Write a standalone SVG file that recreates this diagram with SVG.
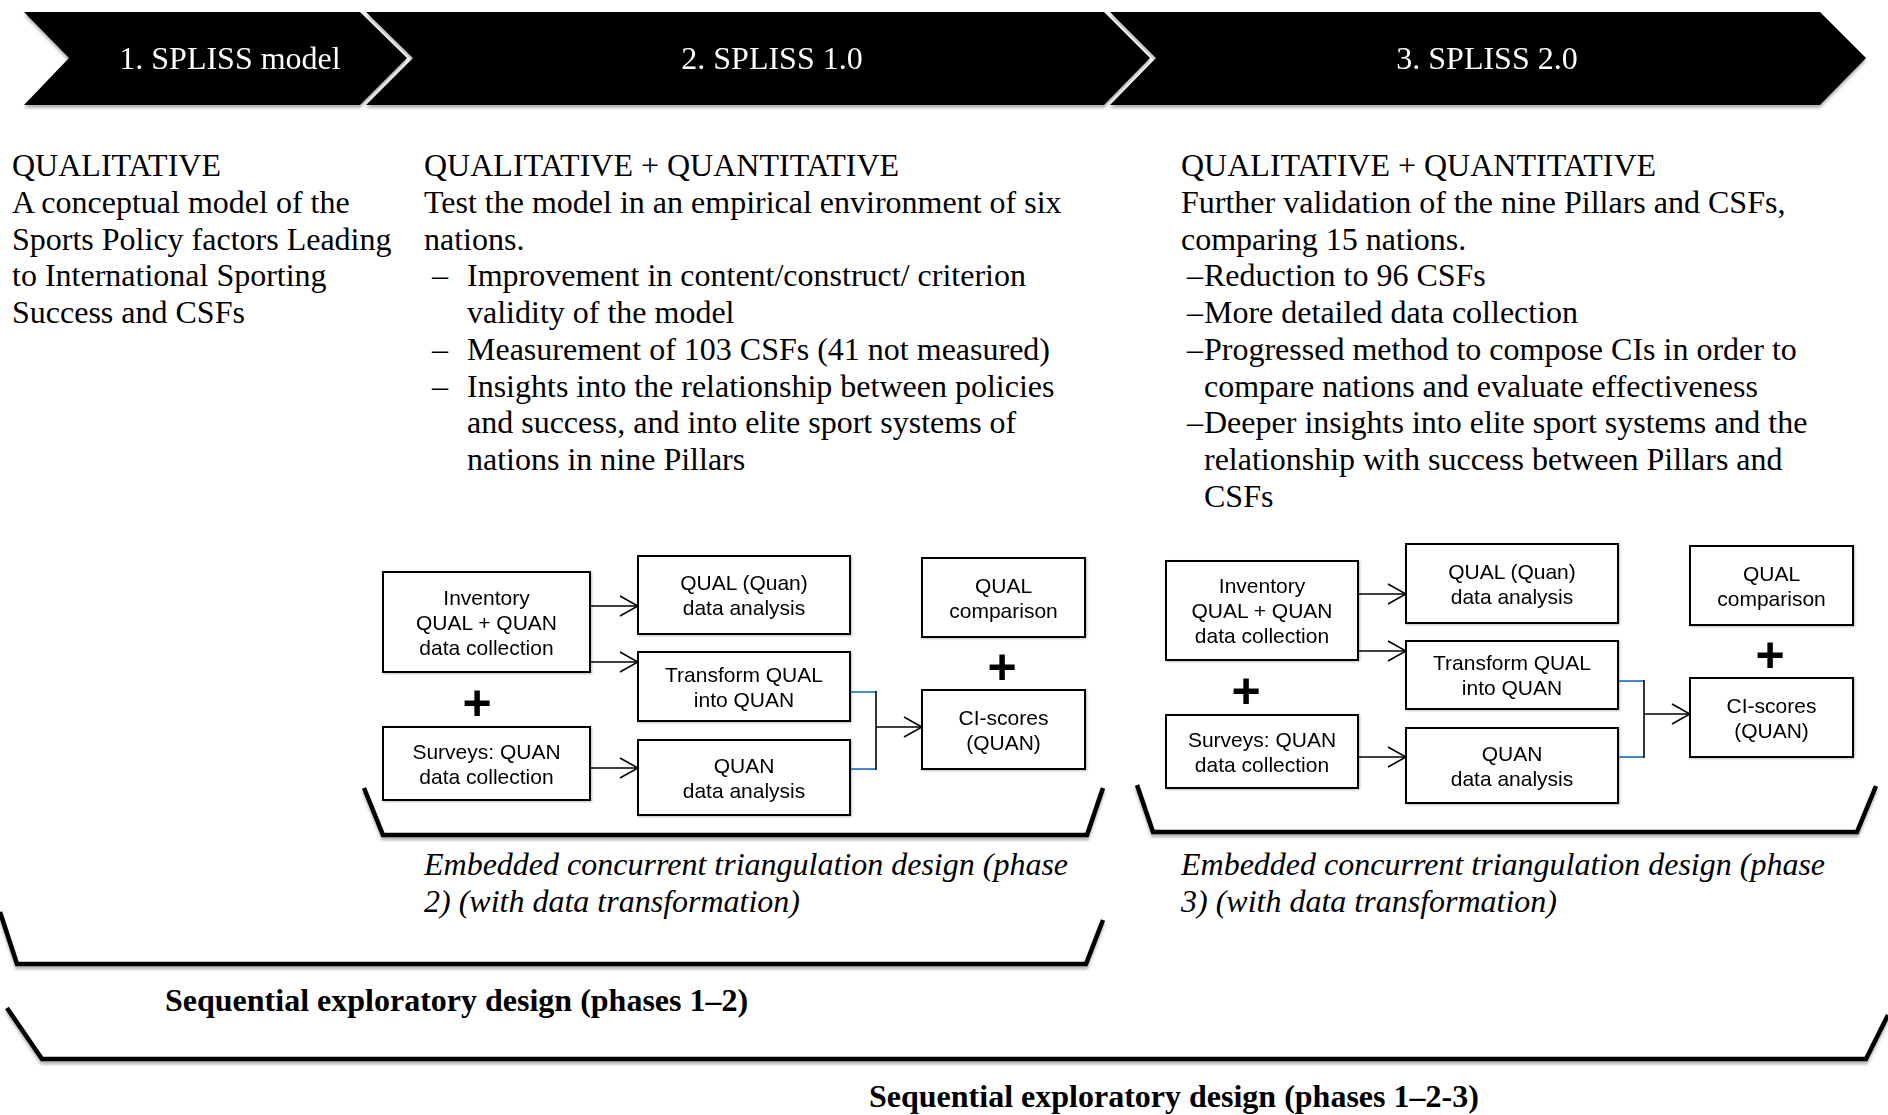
<svg xmlns="http://www.w3.org/2000/svg" width="1888" height="1115" viewBox="0 0 1888 1115">
<defs>
<style>
.ser{font-family:"Liberation Serif","Times New Roman",serif;font-size:32px;fill:#000}
.ban{font-family:"Liberation Serif","Times New Roman",serif;font-size:32px;fill:#fff;text-anchor:middle}
.it{font-style:italic}
.bd{font-weight:bold;font-size:32px}
.box rect{fill:#fff;stroke:#000;stroke-width:2}
.bt{font-family:"Liberation Sans",Arial,sans-serif;font-size:21px;text-anchor:middle;fill:#000}
.plus{font-family:"Liberation Sans",Arial,sans-serif;font-weight:bold;font-size:50px;text-anchor:middle;fill:#000}
.conn{stroke:#000;stroke-width:1.6;fill:none}
.blue{stroke:#2e7bcf;stroke-width:1.8;fill:none}
.brk{stroke:#000;stroke-width:4.5;fill:none;stroke-linejoin:miter}
.chev{fill:#000}
</style>
<marker id="arr" viewBox="0 0 20 22" refX="19" refY="11" markerWidth="20" markerHeight="22" markerUnits="userSpaceOnUse" orient="auto">
<path d="M1,1 L19,11 L1,21" fill="none" stroke="#000" stroke-width="1.6"/>
</marker>
<filter id="sh" x="-5%" y="-20%" width="110%" height="160%">
<feDropShadow dx="0" dy="3" stdDeviation="1.5" flood-color="#000" flood-opacity="0.3"/>
</filter>
<filter id="bsh" x="-5%" y="-10%" width="110%" height="130%">
<feDropShadow dx="1" dy="1" stdDeviation="0.8" flood-color="#000" flood-opacity="0.25"/>
</filter>
</defs>
<rect width="1888" height="1115" fill="#fff"/>

<g id="banner" filter="url(#sh)">
<g id="phase1-header">
<polygon class="chev" points="24,12 360,12 407,58 360,105 24,105 69,58"/>
<text class="ban" x="230" y="69">1. SPLISS model</text>
</g>
<g id="phase2-header">
<polygon class="chev" points="366,12 1104,12 1150,58 1104,105 366,105 413,58"/>
<text class="ban" x="772" y="69">2. SPLISS 1.0</text>
</g>
<g id="phase3-header">
<polygon class="chev" points="1110,12 1820,12 1866,58 1820,105 1110,105 1156,58"/>
<text class="ban" x="1487" y="69">3. SPLISS 2.0</text>
</g>
</g>

<g id="phase1-text" class="ser">
<text x="12" y="176">QUALITATIVE</text>
<text x="12" y="212.75">A conceptual model of the</text>
<text x="12" y="249.5">Sports Policy factors Leading</text>
<text x="12" y="286.25">to International Sporting</text>
<text x="12" y="323">Success and CSFs</text>
</g>

<g id="phase2-text" class="ser">
<text x="424" y="176">QUALITATIVE + QUANTITATIVE</text>
<text x="424" y="212.75">Test the model in an empirical environment of six</text>
<text x="424" y="249.5">nations.</text>
<text x="432" y="286.25">–</text>
<text x="467" y="286.25">Improvement in content/construct/ criterion</text>
<text x="467" y="323">validity of the model</text>
<text x="432" y="359.75">–</text>
<text x="467" y="359.75">Measurement of 103 CSFs (41 not measured)</text>
<text x="432" y="396.5">–</text>
<text x="467" y="396.5">Insights into the relationship between policies</text>
<text x="467" y="433.25">and success, and into elite sport systems of</text>
<text x="467" y="470">nations in nine Pillars</text>
</g>

<g id="phase3-text" class="ser">
<text x="1181" y="176">QUALITATIVE + QUANTITATIVE</text>
<text x="1181" y="212.75">Further validation of the nine Pillars and CSFs,</text>
<text x="1181" y="249.5">comparing 15 nations.</text>
<text x="1187" y="286.25">–</text>
<text x="1204" y="286.25">Reduction to 96 CSFs</text>
<text x="1187" y="323">–</text>
<text x="1204" y="323">More detailed data collection</text>
<text x="1187" y="359.75">–</text>
<text x="1204" y="359.75">Progressed method to compose CIs in order to</text>
<text x="1204" y="396.5">compare nations and evaluate effectiveness</text>
<text x="1187" y="433.25">–</text>
<text x="1204" y="433.25">Deeper insights into elite sport systems and the</text>
<text x="1204" y="470">relationship with success between Pillars and</text>
<text x="1204" y="506.75">CSFs</text>
</g>

<!-- Diagram 1 -->
<g id="d1-inventory" class="box" filter="url(#bsh)">
<rect x="383" y="572" width="207" height="100"/>
<text class="bt" x="486.5" y="605">Inventory</text>
<text class="bt" x="486.5" y="630">QUAL + QUAN</text>
<text class="bt" x="486.5" y="655">data collection</text>
</g>
<g id="d1-surveys" class="box" filter="url(#bsh)">
<rect x="383" y="727" width="207" height="73"/>
<text class="bt" x="486.5" y="758.5">Surveys: QUAN</text>
<text class="bt" x="486.5" y="783.5">data collection</text>
</g>
<g id="d1-qual-analysis" class="box" filter="url(#bsh)">
<rect x="638" y="556" width="212" height="78"/>
<text class="bt" x="744" y="590">QUAL (Quan)</text>
<text class="bt" x="744" y="615">data analysis</text>
</g>
<g id="d1-transform" class="box" filter="url(#bsh)">
<rect x="638" y="652" width="212" height="69"/>
<text class="bt" x="744" y="681.5">Transform QUAL</text>
<text class="bt" x="744" y="706.5">into QUAN</text>
</g>
<g id="d1-quan-analysis" class="box" filter="url(#bsh)">
<rect x="638" y="740" width="212" height="75"/>
<text class="bt" x="744" y="772.5">QUAN</text>
<text class="bt" x="744" y="797.5">data analysis</text>
</g>
<g id="d1-qual-comparison" class="box" filter="url(#bsh)">
<rect x="922" y="558" width="163" height="79"/>
<text class="bt" x="1003.5" y="592.5">QUAL</text>
<text class="bt" x="1003.5" y="617.5">comparison</text>
</g>
<g id="d1-ci-scores" class="box" filter="url(#bsh)">
<rect x="922" y="690" width="163" height="79"/>
<text class="bt" x="1003.5" y="724.5">CI-scores</text>
<text class="bt" x="1003.5" y="749.5">(QUAN)</text>
</g>
<g id="d1-plus">
<text class="plus" x="477" y="719.5">+</text>
<text class="plus" x="1002" y="683.5">+</text>
</g>

<!-- Diagram 2 -->
<g id="d2-inventory" class="box" filter="url(#bsh)">
<rect x="1166" y="561" width="192" height="99"/>
<text class="bt" x="1262" y="593">Inventory</text>
<text class="bt" x="1262" y="618">QUAL + QUAN</text>
<text class="bt" x="1262" y="643">data collection</text>
</g>
<g id="d2-surveys" class="box" filter="url(#bsh)">
<rect x="1166" y="715" width="192" height="73"/>
<text class="bt" x="1262" y="746.5">Surveys: QUAN</text>
<text class="bt" x="1262" y="771.5">data collection</text>
</g>
<g id="d2-qual-analysis" class="box" filter="url(#bsh)">
<rect x="1406" y="544" width="212" height="79"/>
<text class="bt" x="1512" y="578.5">QUAL (Quan)</text>
<text class="bt" x="1512" y="603.5">data analysis</text>
</g>
<g id="d2-transform" class="box" filter="url(#bsh)">
<rect x="1406" y="641" width="212" height="68"/>
<text class="bt" x="1512" y="670">Transform QUAL</text>
<text class="bt" x="1512" y="695">into QUAN</text>
</g>
<g id="d2-quan-analysis" class="box" filter="url(#bsh)">
<rect x="1406" y="728" width="212" height="75"/>
<text class="bt" x="1512" y="760.5">QUAN</text>
<text class="bt" x="1512" y="785.5">data analysis</text>
</g>
<g id="d2-qual-comparison" class="box" filter="url(#bsh)">
<rect x="1690" y="546" width="163" height="79"/>
<text class="bt" x="1771.5" y="580.5">QUAL</text>
<text class="bt" x="1771.5" y="605.5">comparison</text>
</g>
<g id="d2-ci-scores" class="box" filter="url(#bsh)">
<rect x="1690" y="678" width="163" height="79"/>
<text class="bt" x="1771.5" y="712.5">CI-scores</text>
<text class="bt" x="1771.5" y="737.5">(QUAN)</text>
</g>
<g id="d2-plus">
<text class="plus" x="1246" y="707.5">+</text>
<text class="plus" x="1770" y="671.5">+</text>
</g>

<g id="connectors">
<line class="conn" x1="590" y1="606" x2="638" y2="606" marker-end="url(#arr)"/>
<line class="conn" x1="590" y1="662" x2="638" y2="662" marker-end="url(#arr)"/>
<line class="conn" x1="590" y1="768" x2="638" y2="768" marker-end="url(#arr)"/>
<line class="blue" x1="851" y1="692" x2="876" y2="692"/>
<line class="blue" x1="851" y1="769" x2="876" y2="769"/>
<line class="conn" x1="876" y1="691" x2="876" y2="770"/>
<line class="conn" x1="876" y1="727" x2="922" y2="727" marker-end="url(#arr)"/>

<line class="conn" x1="1358" y1="594" x2="1406" y2="594" marker-end="url(#arr)"/>
<line class="conn" x1="1358" y1="651" x2="1406" y2="651" marker-end="url(#arr)"/>
<line class="conn" x1="1358" y1="757" x2="1406" y2="757" marker-end="url(#arr)"/>
<line class="blue" x1="1619" y1="681" x2="1644" y2="681"/>
<line class="blue" x1="1619" y1="757" x2="1644" y2="757"/>
<line class="conn" x1="1644" y1="680" x2="1644" y2="758"/>
<line class="conn" x1="1644" y1="714" x2="1690" y2="714" marker-end="url(#arr)"/>
</g>

<g id="brackets" filter="url(#sh)">
<polyline class="brk" points="364,788 383,835 1087,835 1103,788"/>
<polyline class="brk" points="1137,785 1153,832 1857,832 1876,786"/>
<polyline class="brk" points="0,912 17,964 1086,964 1103,920"/>
<polyline class="brk" points="7,1008 42,1059 1866,1059 1888,1015"/>
</g>

<g id="labels" class="ser">
<text class="it" x="424" y="875">Embedded concurrent triangulation design (phase</text>
<text class="it" x="424" y="912">2) (with data transformation)</text>
<text class="it" x="1181" y="875">Embedded concurrent triangulation design (phase</text>
<text class="it" x="1181" y="912">3) (with data transformation)</text>
<text class="bd" x="165" y="1011">Sequential exploratory design (phases 1–2)</text>
<text class="bd" x="869" y="1107">Sequential exploratory design (phases 1–2-3)</text>
</g>
</svg>
